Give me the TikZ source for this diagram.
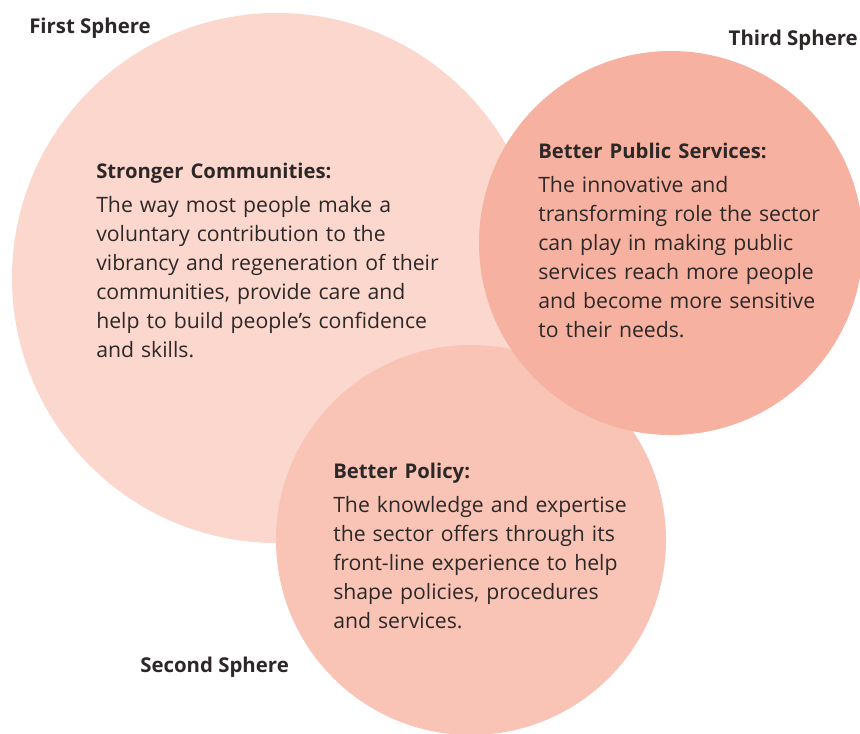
\documentclass[tikz,border=0pt]{standalone}
\usepackage{fontspec}
\setmainfont{Open Sans}
\definecolor{firstpink}{RGB}{252,215,205}
\definecolor{secondpink}{RGB}{249,196,181}
\definecolor{thirdpink}{RGB}{246,177,160}
\definecolor{inkgrey}{RGB}{45,40,40}
\tikzset{
  spherename/.style={anchor=base west,inner sep=0pt,text=inkgrey,font=\bfseries\fontsize{15.3}{18}\selectfont},
  blurb/.style={anchor=base west,inner sep=0pt,text=inkgrey,text width=260pt,align=left,font=\fontsize{15.9}{21.75}\selectfont}
}
\begin{document}
\begin{tikzpicture}[x=0.75pt,y=-0.75pt]
\useasboundingbox (0,0) rectangle (860,733);
\fill[firstpink] (277,278) circle[radius=265*0.75pt];
\fill[secondpink] (471,540) circle[radius=195*0.75pt];
\fill[thirdpink] (671,243) circle[radius=192*0.75pt];
\node[spherename] (first) at (29,33) {First Sphere};
\node[spherename,anchor=base east] (third) at (858,45) {Third Sphere};
\node[spherename] (second) at (140,672) {Second Sphere};
\node[blurb] (communities) at (96,178) {\textbf{\fontsize{15.2}{18}\selectfont Stronger Communities:}\\[4pt]
 The way most people make a\\
 voluntary contribution to the\\
 vibrancy and regeneration of their\\
 communities, provide care and\\
 help to build people’s confidence\\
 and skills.};
\node[blurb] (services) at (538,158) {\textbf{\fontsize{15.2}{18}\selectfont Better Public Services:}\\[4pt]
 The innovative and\\
 transforming role the sector\\
 can play in making public\\
 services reach more people\\
 and become more sensitive\\
 to their needs.};
\node[blurb] (policy) at (333,478) {\textbf{\fontsize{15.2}{18}\selectfont Better Policy:}\\[4pt]
 The knowledge and expertise\\
 the sector offers through its\\
 front-line experience to help\\
 shape policies, procedures\\
 and services.};
\end{tikzpicture}
\end{document}
